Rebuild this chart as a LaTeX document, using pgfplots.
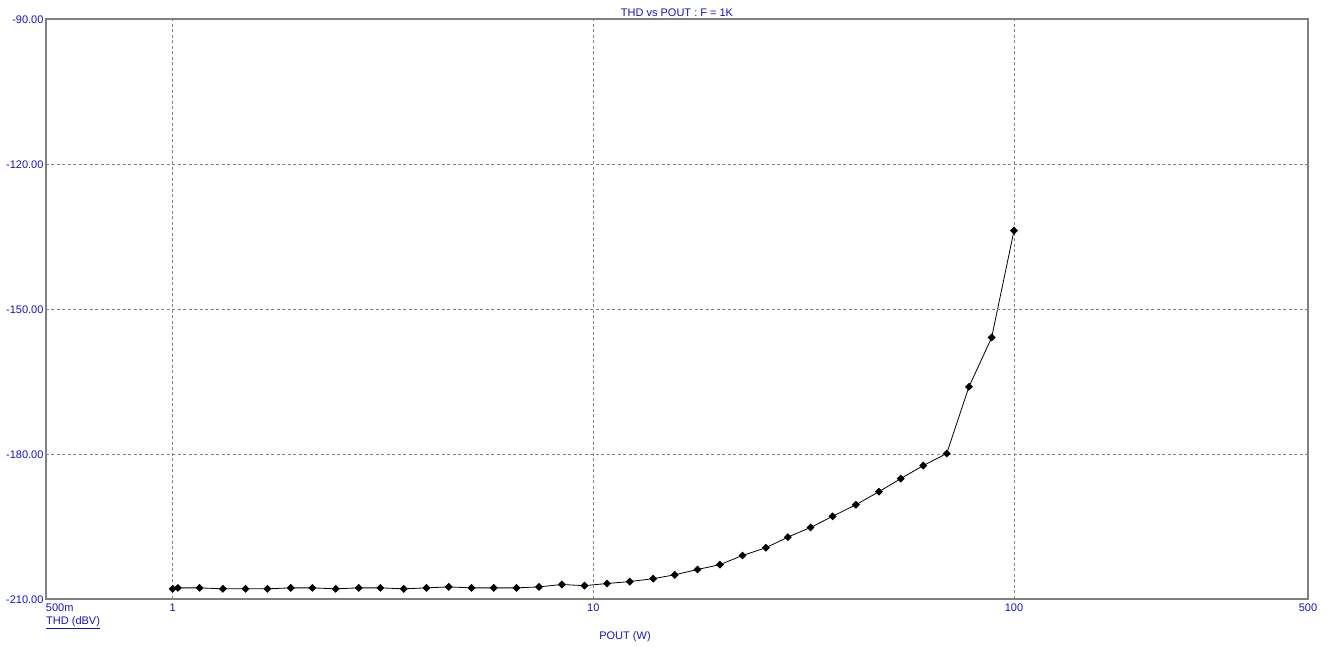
\documentclass[border=0pt]{standalone}
\usepackage{pgfplots}
\pgfplotsset{compat=1.18}
\usepackage{fontspec}
\setmainfont{Liberation Sans}

\definecolor{labelblue}{RGB}{20,20,190}
\definecolor{framegrey}{RGB}{128,128,128}

\begin{document}
\begin{tikzpicture}[font=\fontsize{11pt}{13pt}\selectfont]
  \begin{axis}[
      scale only axis,
      width = 1262pt,
      height = 580pt,
      xmode = log,
      xmin = 0.5, xmax = 500,
      ymin = -210, ymax = -90,
      xtick = {0.5,1,10,100,500},
      xticklabels = {\rlap{500m},1,10,100,500},
      ytick = {-210,-180,-150,-120,-90},
      yticklabels = {-210.00,-180.00,-150.00,-120.00,-90.00},
      xminorticks = false,
      major tick length = 0pt,
      grid = major,
      major grid style = {framegrey, line width=0.8pt, dash pattern=on 3pt off 2.5pt},
      axis line style = {framegrey, line width=1.2pt},
      axis on top,
      ticklabel style = {labelblue},
      xticklabel style = {yshift=-1pt},
      yticklabel style = {xshift=1pt, yshift=-1pt},
      title = {THD vs POUT : F = 1K},
      title style = {labelblue, at={(axis description cs:0.5,1)}, anchor=center, yshift=0pt},
      xlabel = {POUT (W)},
      xlabel style = {labelblue, at={(axis description cs:0.4588,0)}, anchor=center, yshift=-38pt},
      clip = false
    ]
    \addplot[black, line width=0.8pt, mark=square*, mark size=2.4pt,
      mark options={solid, fill=black, rotate=45}]
    coordinates {
        (1.0,-207.9)
        (1.029,-207.7)
        (1.159,-207.7)
        (1.317,-207.9)
        (1.491,-207.9)
        (1.680,-207.9)
        (1.909,-207.7)
        (2.149,-207.7)
        (2.441,-207.9)
        (2.769,-207.7)
        (3.118,-207.7)
        (3.543,-207.9)
        (4.012,-207.7)
        (4.532,-207.5)
        (5.134,-207.7)
        (5.799,-207.7)
        (6.568,-207.7)
        (7.43,-207.5)
        (8.417,-207.0)
        (9.53,-207.25)
        (10.78,-206.8)
        (12.21,-206.4)
        (13.88,-205.8)
        (15.62,-205.0)
        (17.69,-203.9)
        (20.0,-202.9)
        (22.63,-201.0)
        (25.72,-199.4)
        (29.01,-197.2)
        (32.85,-195.2)
        (37.06,-192.9)
        (42.1,-190.5)
        (47.75,-187.8)
        (53.79,-185.1)
        (60.86,-182.4)
        (69.2,-179.9)
        (78.17,-166.1)
        (88.5,-155.9)
        (100,-133.8)
      };
    \node[labelblue, anchor=north west, inner sep=0pt] at (rel axis cs:0,0)
      [yshift=-17pt] {\underline{THD (dBV)}};
  \end{axis}
  \path ([shift={(-46pt,-54pt)}]current axis.south west)
    rectangle ([shift={(29pt,19pt)}]current axis.north east);
\end{tikzpicture}
\end{document}
